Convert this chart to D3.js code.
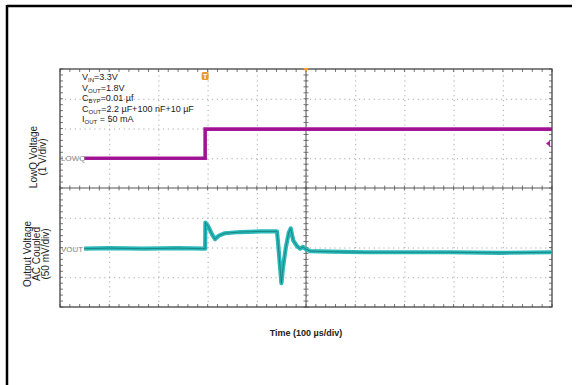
<!DOCTYPE html>
<html><head><meta charset="utf-8">
<script src="https://cdn.jsdelivr.net/npm/d3@7"></script>
<style>body{margin:0;background:#fff}svg{display:block;font-family:"Liberation Sans",Arial,sans-serif}</style>
</head><body>
<svg id="c" width="577" height="385"></svg>
<script>
// ---- data ----
// LowQ channel, time in µs, voltage in V (1 V/div)
const lowqTime = [-451, -205, -205, 500];
const lowqVolt = [0, 0, 0.98, 0.98];
// Output voltage (AC coupled), time in µs, mV (50 mV/div)
const voutTime = [-451, -400, -330, -260, -205, -204.5, -199, -191, -185, -177, -165, -134, -93, -59, -57, -53, -50, -47, -41, -35, -31, -26, -18, -12, -6, 0, 8, 49, 120, 191, 293, 394, 500];
const voutMv   = [-2, -1, -2, -1, -2, 42, 36, 22, 14, 20, 24, 26, 27, 27, 10, -30, -60, -35, 0, 25, 32, 12, 2, -2, 1, -3, -6, -7, -8, -8, -8, -9, -8];
const xDivs = [-500, -400, -300, -200, -100, 0, 100, 200, 300, 400, 500];
const topDivs = [-1, 0, 1, 2, 3];
const botDivs = [-100, -50, 0, 50, 100];
const condLines = [
  ["V", "IN", "=3.3V"],
  ["V", "OUT", "=1.8V"],
  ["C", "BYP", "=0.01 µf"],
  ["C", "OUT", "=2.2 µF+100 nF+10 µF"],
  ["I", "OUT", " = 50 mA"]
];
const topLabel = ["LowQ Voltage", "(1 V/div)"];
const botLabel = ["Output Voltage", "AC Coupled", "(50 mV/div)"];
const xTitle = "Time (100 µs/div)";

// ---- layout ----
const L = 60, R = 552, T = 69, M = 188, B = 307;
const svg = d3.select("#c");
const x = d3.scaleLinear().domain([-500, 500]).range([L, R]);
const yT = d3.scaleLinear().domain([-1, 3]).range([M, T]);
const yB = d3.scaleLinear().domain([-100, 100]).range([B, M]);
const yAll = d3.scaleLinear().domain([-4, 4]).range([B, T]);

// frame (top & left only)
svg.append("line").attr("x1", 7).attr("x2", 572).attr("y1", 6).attr("y2", 6).attr("stroke", "#000").attr("stroke-width", 2.5);
svg.append("line").attr("x1", 7).attr("x2", 7).attr("y1", 5).attr("y2", 385).attr("stroke", "#000").attr("stroke-width", 2.5);

// dotted grid
const grid = svg.append("g");
grid.append("g").attr("transform", `translate(0,${B})`)
  .call(d3.axisBottom(x).tickValues(xDivs.slice(1, -1)).tickSize(B - T).tickFormat(""))
  .call(g => g.select(".domain").remove())
  .call(g => g.selectAll("line").attr("y2", -(B - T)).attr("stroke", "#aaa").attr("stroke-dasharray", "1.2,3.7"));
grid.append("g").attr("transform", `translate(${L},0)`)
  .call(d3.axisLeft(yAll).tickValues([-3, -2, -1, 1, 2, 3]).tickSize(R - L).tickFormat(""))
  .call(g => g.select(".domain").remove())
  .call(g => g.selectAll("line").attr("x2", R - L).attr("stroke", "#aaa").attr("stroke-dasharray", "1.2,3.7"));

// minor ticks along center lines and borders
const minorX = d3.range(-500, 500.1, 20);
const minorY = d3.range(-4, 4.01, 0.2);
function hTicks(yPos, up, down) {
  svg.append("g").selectAll("line").data(minorX).join("line")
    .attr("x1", d => x(d)).attr("x2", d => x(d)).attr("y1", yPos - up).attr("y2", yPos + down)
    .attr("stroke", "#555").attr("stroke-width", 0.8);
}
function vTicks(xPos, l, r) {
  svg.append("g").selectAll("line").data(minorY).join("line")
    .attr("y1", d => yAll(d)).attr("y2", d => yAll(d)).attr("x1", xPos - l).attr("x2", xPos + r)
    .attr("stroke", "#555").attr("stroke-width", 0.8);
}
hTicks(M, 2.5, 2.5); hTicks(T, 0, 3); hTicks(B, 3, 0);
vTicks(x(0), 2.5, 2.5); vTicks(L, 0, 3); vTicks(R, 3, 0);

svg.append("line").attr("x1", L).attr("x2", R).attr("y1", M).attr("y2", M).attr("stroke", "#555").attr("stroke-width", 1);
svg.append("line").attr("x1", x(0)).attr("x2", x(0)).attr("y1", T).attr("y2", B).attr("stroke", "#555").attr("stroke-width", 1);
svg.append("rect").attr("x", L).attr("y", T).attr("width", R - L).attr("height", B - T)
  .attr("fill", "none").attr("stroke", "#444").attr("stroke-width", 1.3);

// traces
const lineT = d3.line().x((d, i) => x(lowqTime[i])).y(d => yT(d));
svg.append("path").attr("d", lineT(lowqVolt)).attr("fill", "none").attr("stroke", "#a8179c").attr("stroke-width", 3.6);
svg.append("path").attr("d", lineT(lowqVolt)).attr("fill", "none").attr("stroke", "#7a0f70").attr("stroke-width", 0.8).attr("opacity", 0.6);

const lineB = d3.line().x((d, i) => x(voutTime[i])).y(d => yB(d));
svg.append("path").attr("d", lineB(voutMv)).attr("fill", "none").attr("stroke", "#2ab9b9").attr("stroke-width", 4.2).attr("stroke-linejoin", "round");
svg.append("path").attr("d", lineB(voutMv)).attr("fill", "none").attr("stroke", "#17706e").attr("stroke-width", 1).attr("opacity", 0.7).attr("stroke-linejoin", "round");

// channel ground labels
svg.append("text").attr("x", L + 1).attr("y", yT(0) + 3).attr("font-size", 8).attr("fill", "#888").text("LOWQ");
svg.append("text").attr("x", L + 1).attr("y", yB(0) + 4).attr("font-size", 8).attr("fill", "#888").text("VOUT");

// trigger markers
svg.append("path").attr("d", `M${x(0) - 3},${T - 1}L${x(0) + 3},${T - 1}L${x(0)},${T + 3}Z`).attr("fill", "#f0a030");
const tx = x(lowqTime[1]);
svg.append("rect").attr("x", tx - 3.5).attr("y", 72).attr("width", 7).attr("height", 8).attr("rx", 1.5).attr("fill", "#e89a2c");
svg.append("text").attr("x", tx).attr("y", 79).attr("text-anchor", "middle").attr("font-size", 7).attr("font-weight", "bold").attr("fill", "#fff").text("T");
svg.append("path").attr("d", `M${R - 2},${yT(0.5) - 3}L${R - 2},${yT(0.5) + 3}L${R - 6},${yT(0.5)}Z`).attr("fill", "#a8179c");

// conditions text
const ct = svg.append("g").attr("font-size", 9).attr("fill", "#222");
condLines.forEach((c, i) => {
  const t = ct.append("text").attr("x", 82).attr("y", 80 + i * 10.5);
  t.append("tspan").text(c[0]);
  t.append("tspan").attr("font-size", 6).attr("dy", 2).text(c[1]);
  t.append("tspan").attr("dy", -2).text(c[2]);
});

// axis labels
function rotLabel(lines, cx, cy, gap) {
  const g = svg.append("g").attr("transform", `translate(${cx},${cy}) rotate(-90)`);
  lines.forEach((s, i) => {
    g.append("text").attr("x", 0).attr("y", (i - (lines.length - 1) / 2) * gap + 3.5)
      .attr("text-anchor", "middle").attr("font-size", 10).attr("fill", "#222").text(s);
  });
}
rotLabel(topLabel, 38, 157, 9.5);
rotLabel(botLabel, 36, 254, 9);

svg.append("text").attr("x", x(0)).attr("y", 336).attr("text-anchor", "middle")
  .attr("font-size", 9).attr("font-weight", "bold").attr("fill", "#222").text(xTitle);
</script>
</body></html>
